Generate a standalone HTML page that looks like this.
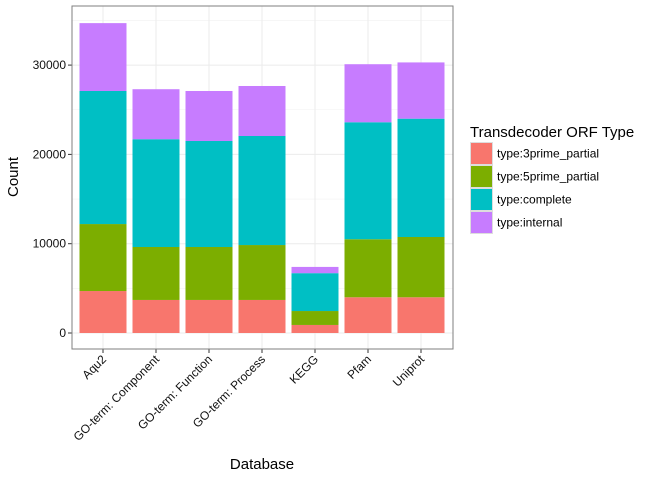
<!DOCTYPE html>
<html><head><meta charset="utf-8"><style>
body{margin:0;background:#fff;font-family:"Liberation Sans",sans-serif}
svg text{font-family:"Liberation Sans",sans-serif}
</style></head><body>
<svg width="672" height="480" id="chart">
<g id="grid"></g><g id="bars"></g><g id="axes"></g>
<rect x="72" y="6" width="381" height="343" fill="none" stroke="#7f7f7f" stroke-width="1"/>
<text x="18" y="177" transform="rotate(-90 18 177)" text-anchor="middle" font-size="15">Count</text>
<text x="262" y="469" text-anchor="middle" font-size="15">Database</text>
<g id="legend"></g>
</svg>
<script>
const categories=["Aqu2","GO-term: Component","GO-term: Function","GO-term: Process","KEGG","Pfam","Uniprot"];
const seriesNames=["type:3prime_partial","type:5prime_partial","type:complete","type:internal"];
const colors=["#F8766D","#7CAE00","#00BFC4","#C77CFF"];
const prime3=[4700,3700,3700,3700,900,4000,4000];
const prime5=[7500,5930,5930,6150,1560,6500,6750];
const complete=[14900,12070,11870,12210,4240,13100,13250];
const internal=[7600,5600,5600,5600,700,6500,6300];
const yTicks=[0,10000,20000,30000];
const series=[prime3,prime5,complete,internal];
const NS="http://www.w3.org/2000/svg";
const x=i=>103+i*53;
const y=v=>333-v*0.00893;
function mk(t,a,p){const e=document.createElementNS(NS,t);for(const k in a)e.setAttribute(k,a[k]);p.appendChild(e);return e;}
const grid=document.getElementById('grid'),bars=document.getElementById('bars'),axes=document.getElementById('axes');
mk('rect',{x:72,y:6,width:381,height:343,fill:'#fff'},grid);
for(let v=5000;v<=35000;v+=10000){const l=mk('line',{x1:72,x2:453,y1:y(v),y2:y(v),stroke:'#f2f2f2','stroke-width':0.6},grid);

}
yTicks.forEach(v=>{const l=mk('line',{x1:72,x2:453,y1:y(v),y2:y(v),stroke:'#ebebeb','stroke-width':1},grid);


const t=mk('line',{x1:68,x2:72,y1:y(v),y2:y(v),stroke:'#333'},axes);


const tx=mk('text',{x:66,y:y(v)+4,'text-anchor':'end','font-size':12,fill:'#111'},axes);tx.textContent=v;

});
categories.forEach((c,i)=>{const l=mk('line',{x1:x(i),x2:x(i),y1:6,y2:349,stroke:'#ebebeb'},grid);


let base=0;
series.forEach((s,j)=>{const r=mk('rect',{x:x(i)-23.5,width:47,y:y(base+s[i]),height:y(base)-y(base+s[i]),fill:colors[j]},bars);


base+=s[i];});
const t=mk('line',{x1:x(i),x2:x(i),y1:349,y2:353,stroke:'#333'},axes);


const tx=mk('text',{x:x(i)+4,y:360,'text-anchor':'end','font-size':12,fill:'#111',transform:`rotate(-45 ${x(i)+4} 360)`},axes);tx.textContent=c;

});
const lg=document.getElementById('legend');
const tt=mk('text',{x:470,y:137,'font-size':15},lg);tt.textContent="Transdecoder ORF Type";


seriesNames.forEach((n,j)=>{const yy=142+j*23;
const r=mk('rect',{x:470.5,y:yy+0.5,width:22,height:22,fill:colors[j],stroke:'#ddd'},lg);


const t=mk('text',{x:497,y:yy+15.5,'font-size':12},lg);t.textContent=n;

});
</script>
</body></html>
